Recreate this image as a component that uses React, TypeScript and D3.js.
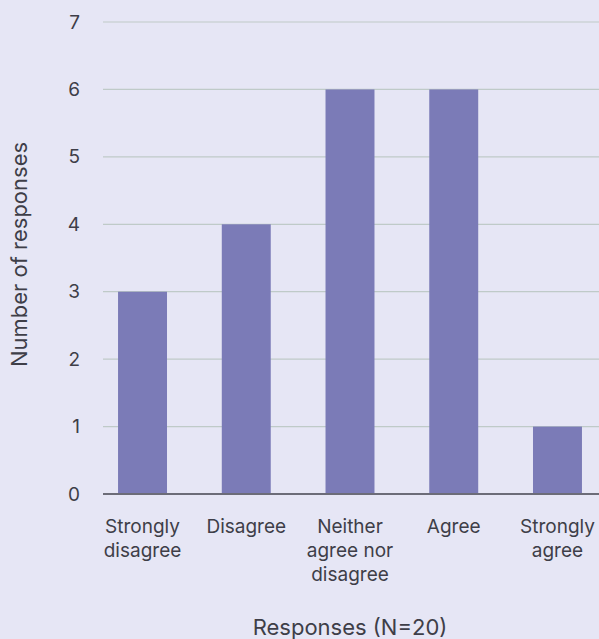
import React from "react";
import * as d3 from "d3";

const categories: string[][] = [
  ["Strongly", "disagree"],
  ["Disagree"],
  ["Neither", "agree nor", "disagree"],
  ["Agree"],
  ["Strongly", "agree"],
];
const counts: number[] = [3, 4, 6, 6, 1];
const yTicks: number[] = [0, 1, 2, 3, 4, 5, 6, 7];
const xTitle = "Responses (N=20)";
const yTitle = "Number of responses";

const W = 599;
const H = 639;
const FONT = "Inter, 'Noto Sans', sans-serif";
const TEXT = "#3e3e48";

export default function App() {
  const left = 103;
  const right = 597;
  const x = d3
    .scaleBand<number>()
    .domain(d3.range(counts.length))
    .range([left, right])
    .paddingInner(0.528)
    .paddingOuter(0.145);
  const y = d3.scaleLinear().domain([0, 7]).range([494, 22]);

  return (
    <svg
      width={W}
      height={H}
      style={{ position: "absolute", left: 0, top: 0, background: "#e6e6f5" }}
      fontFamily={FONT}
    >
      <rect x={0} y={0} width={W} height={H} fill="#e6e6f5" />
      {yTicks.map((t) => (
        <g key={t}>
          {t > 0 && (
            <line x1={left} x2={W} y1={y(t)} y2={y(t)} stroke="#bfcac8" strokeWidth={1.2} />
          )}
          <text
            x={80}
            y={y(t)}
            textAnchor="end"
            dominantBaseline="central"
            fontSize={19}
            fill={TEXT}
          >
            {t}
          </text>
        </g>
      ))}
      {counts.map((v, i) => (
        <rect
          key={i}
          x={x(i)}
          y={y(v)}
          width={x.bandwidth()}
          height={y(0) - y(v)}
          fill="#7b7bb7"
        />
      ))}
      <line x1={left} x2={W} y1={y(0)} y2={y(0)} stroke="#6c6c78" strokeWidth={2} />
      {categories.map((lines, i) => (
        <text
          key={i}
          x={(x(i) as number) + x.bandwidth() / 2}
          y={533}
          textAnchor="middle"
          fontSize={19}
          fill={TEXT}
        >
          {lines.map((ln, j) => (
            <tspan key={j} x={(x(i) as number) + x.bandwidth() / 2} dy={j === 0 ? 0 : 24}>
              {ln}
            </tspan>
          ))}
        </text>
      ))}
      <text x={350} y={635} textAnchor="middle" fontSize={22} fill={TEXT}>
        {xTitle}
      </text>
      <text
        transform={`translate(27, ${254.5}) rotate(-90)`}
        textAnchor="middle"
        fontSize={22}
        fill={TEXT}
      >
        {yTitle}
      </text>
    </svg>
  );
}
